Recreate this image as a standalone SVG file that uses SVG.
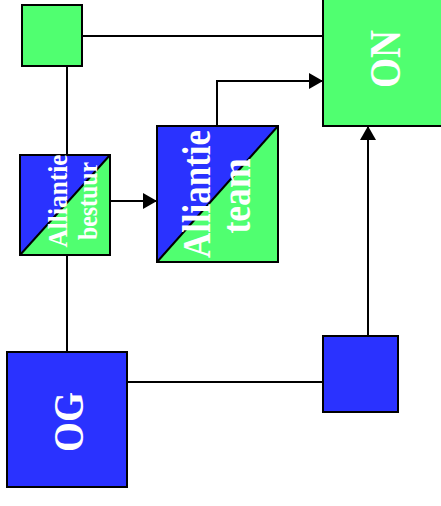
<svg xmlns="http://www.w3.org/2000/svg" width="441" height="506" viewBox="0 0 441 506">
<style>
.box{stroke:#000;stroke-width:2}
.g{fill:#50ff70}
.b{fill:#2a32ff}
.ln{fill:none;stroke:#000;stroke-width:2}
.t{font-family:"Liberation Serif","Times New Roman",serif;font-weight:bold;fill:#fff;text-anchor:middle}
</style>
<defs>
<marker id="ah" markerWidth="14" markerHeight="16" refX="14" refY="8" orient="auto" markerUnits="userSpaceOnUse">
<path d="M0,0 L14,8 L0,16 Z" fill="#000"/>
</marker>
</defs>
<g id="connectors">
<line class="ln" x1="82" y1="36" x2="323" y2="36"/>
<line class="ln" x1="67" y1="66" x2="67" y2="155"/>
<line class="ln" x1="67" y1="255" x2="67" y2="352"/>
<line class="ln" x1="127" y1="382" x2="323" y2="382"/>
<line class="ln" x1="110" y1="201" x2="157" y2="201" marker-end="url(#ah)"/>
<polyline class="ln" points="217,126 217,81 323,81" marker-end="url(#ah)"/>
<line class="ln" x1="368" y1="336" x2="368" y2="126" marker-end="url(#ah)"/>
</g>
<g id="n-green-small">
<rect class="box g" x="22" y="5" width="60" height="61"/>
</g>
<g id="n-ON">
<rect class="box g" x="323" y="-2" width="122" height="128"/>
<text class="t" font-size="44" textLength="58" lengthAdjust="spacingAndGlyphs" transform="translate(400,59) rotate(-90)">ON</text>
</g>
<g id="n-alliantie-bestuur">
<polygon class="b" points="20,155 110,155 20,255"/>
<polygon class="g" points="110,155 110,255 20,255"/>
<rect class="box" x="20" y="155" width="90" height="100" fill="none"/>
<line class="ln" x1="20" y1="255" x2="110" y2="155"/>
<text class="t" font-size="28" textLength="93" lengthAdjust="spacingAndGlyphs" transform="translate(67,201) rotate(-90)">Alliantie</text>
<text class="t" font-size="28" textLength="78" lengthAdjust="spacingAndGlyphs" transform="translate(97,201) rotate(-90)">bestuur</text>
</g>
<g id="n-alliantie-team">
<polygon class="b" points="157,126 278,126 157,262"/>
<polygon class="g" points="278,126 278,262 157,262"/>
<rect class="box" x="157" y="126" width="121" height="136" fill="none"/>
<line class="ln" x1="157" y1="262" x2="278" y2="126"/>
<text class="t" font-size="41" textLength="128" lengthAdjust="spacingAndGlyphs" transform="translate(210,194) rotate(-90)">Alliantie</text>
<text class="t" font-size="41" textLength="75" lengthAdjust="spacingAndGlyphs" transform="translate(250,196) rotate(-90)">team</text>
</g>
<g id="n-OG">
<rect class="box b" x="7" y="352" width="120" height="135"/>
<text class="t" font-size="43" textLength="60" lengthAdjust="spacingAndGlyphs" transform="translate(83,422) rotate(-90)">OG</text>
</g>
<g id="n-blue-small">
<rect class="box b" x="323" y="336" width="75" height="76"/>
</g>
</svg>
